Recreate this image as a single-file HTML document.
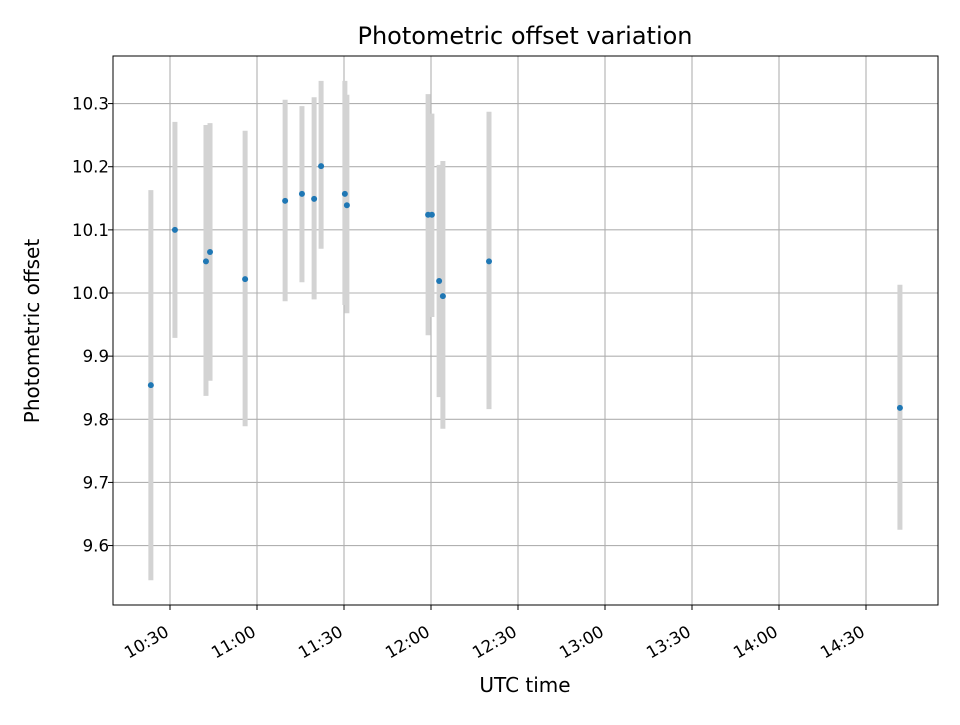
<!DOCTYPE html>
<html><head><meta charset="utf-8"><style>body{margin:0;background:#fff}svg text{font-family:"DejaVu Sans","Liberation Sans",sans-serif}</style></head>
<body>
<svg id="chart" width="960" height="720" xmlns="http://www.w3.org/2000/svg">
<rect width="960" height="720" fill="#fff"/>
<g id="grid"></g><g id="marks"></g><g id="axes"></g>
<text x="525" y="44" font-size="24" text-anchor="middle">Photometric offset variation</text>
<text x="525" y="692" font-size="20" text-anchor="middle">UTC time</text>
<text transform="translate(39,331) rotate(-90)" font-size="20" text-anchor="middle">Photometric offset</text>
</svg>
<script>
const timesMin = [23.4,31.7,42.4,43.8,55.9,69.7,75.5,79.7,82.1,90.3,91,119,120.3,122.8,124.1,140,281.7];
const offsets = [9.854,10.100,10.050,10.065,10.022,10.146,10.157,10.149,10.201,10.157,10.139,10.124,10.124,10.019,9.995,10.050,9.818];
const errHigh = [10.163,10.271,10.266,10.269,10.257,10.306,10.296,10.310,10.336,10.336,10.314,10.315,10.284,10.203,10.209,10.287,10.013];
const errLow = [9.545,9.929,9.837,9.861,9.789,9.987,10.017,9.990,10.070,9.981,9.968,9.933,9.962,9.835,9.785,9.816,9.625];
const xTickMin = [30,60,90,120,150,180,210,240,270];
const xTickLabels = ["10:30","11:00","11:30","12:00","12:30","13:00","13:30","14:00","14:30"];
const yTicks = [9.6,9.7,9.8,9.9,10.0,10.1,10.2,10.3];

const L=113,R=938,T=56,B=605;
const xs = m => 170 + (m-30)*2.9;
const ys = v => 293 - (v-10)*631.4;
const NS="http://www.w3.org/2000/svg";
function mk(tag, attrs, parent){const e=document.createElementNS(NS,tag);for(const k in attrs)e.setAttribute(k,attrs[k]);document.getElementById(parent).appendChild(e);return e;}
xTickMin.forEach((m,i)=>{
  const x=xs(m);
  const g=mk('line',{x1:x,x2:x,y1:T,y2:B,stroke:'#b0b0b0','stroke-width':1.1},'grid');
  
  
  const t=mk('line',{x1:x,x2:x,y1:B,y2:B+5,stroke:'#000','stroke-width':1},'axes');
  
  
  const lb=mk('text',{transform:`translate(${x},${B+30}) rotate(-30)`,'text-anchor':'end','font-size':16.6},'axes');
  lb.textContent=xTickLabels[i];
  
  
});
yTicks.forEach(v=>{
  const y=ys(v);
  const g=mk('line',{x1:L,x2:R,y1:y,y2:y,stroke:'#b0b0b0','stroke-width':1.1},'grid');
  
  
  const t=mk('line',{x1:L-5,x2:L,y1:y,y2:y,stroke:'#000','stroke-width':1},'axes');
  
  
  const lb=mk('text',{x:L-4,y:y+6,'text-anchor':'end','font-size':16.6},'axes');
  lb.textContent=v.toFixed(1);
  
  
});
const fr=mk('rect',{x:L,y:T,width:R-L,height:B-T,fill:'none',stroke:'#000','stroke-width':1},'axes');


timesMin.forEach((m,i)=>{
  const x=xs(m);
  const e=mk('line',{x1:x,x2:x,y1:ys(errHigh[i]),y2:ys(errLow[i]),stroke:'#d3d3d3','stroke-width':5},'marks');
  
  
});
timesMin.forEach((m,i)=>{
  const p=mk('circle',{cx:xs(m),cy:ys(offsets[i]),r:3,fill:'#1f77b4'},'marks');
  
  
});
</script>
</body></html>
